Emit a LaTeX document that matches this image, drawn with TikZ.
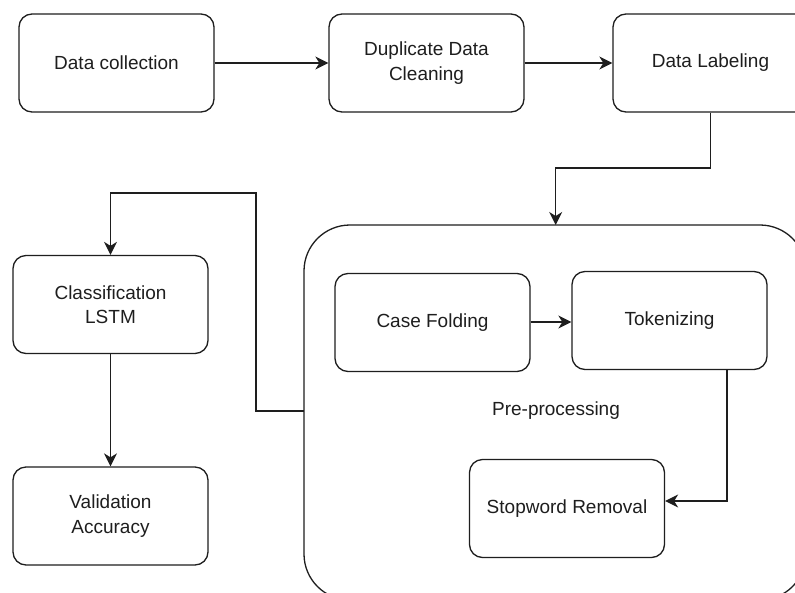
\documentclass[tikz,border=0pt]{standalone}
\usepackage{fontspec}
\setmainfont{Liberation Sans}
\usetikzlibrary{arrows.meta}
\definecolor{ink}{HTML}{1E1E1E}
\tikzset{
  box/.style={draw=ink, line width=1.3pt, rounded corners=13pt, minimum width=195pt, minimum height=98pt, inner sep=0pt, align=center, text=ink, font=\fontsize{19}{24.5}\selectfont},
  conn/.style={draw=ink, line width=1.3pt, -{Stealth[length=13pt,width=13pt,inset=4pt]}},
  lbl/.style={text=ink, font=\fontsize{19}{24.5}\selectfont, inner sep=0pt}
}
\begin{document}
\begin{tikzpicture}[x=1pt,y=-1pt]
\useasboundingbox (0,0) rectangle (795,592);
\clip (0,0) rectangle (795,592);
\fill[white] (0,0) rectangle (795,592);
% big pre-processing container
\draw[draw=ink, line width=1.3pt, rounded corners=46pt] (304,225) rectangle (806,600);
\coordinate (pretop) at (555.7,225);
\coordinate (preleft) at (304,411);
\node[lbl] (prelbl) at (556,411) {Pre-processing};
% nodes
\node[box] (dc) at (116.5,63) {Data collection};
\node[box] (dup) at (426.5,63) {Duplicate Data\\Cleaning};
\node[box] (lab) at (710.5,63) {Data Labeling};
\node[box] (cls) at (110.5,304.5) {Classification\\LSTM};
\node[box] (val) at (110.5,516) {Validation\\Accuracy};
\node[box] (cf) at (432.5,322.5) {Case Folding};
\node[box] (tok) at (669.5,320.5) {Tokenizing};
\node[box] (stop) at (567,508.5) {Stopword Removal};
% connectors
\draw[conn] (dc.east) -- (dup.west);
\draw[conn] (dup.east) -- (lab.west);
\draw[conn] (lab.south) |- (633,168) -| (pretop);
\draw[conn] (preleft) -- (256,411) |- (180,193) -| (cls.north);
\draw[conn] (cls.south) -- (val.north);
\draw[conn] (cf.east |- 0,322) -- (tok.west |- 0,322);
\draw[conn] (727,369.5) |- (stop.east |- 0,501);
\end{tikzpicture}
\end{document}
